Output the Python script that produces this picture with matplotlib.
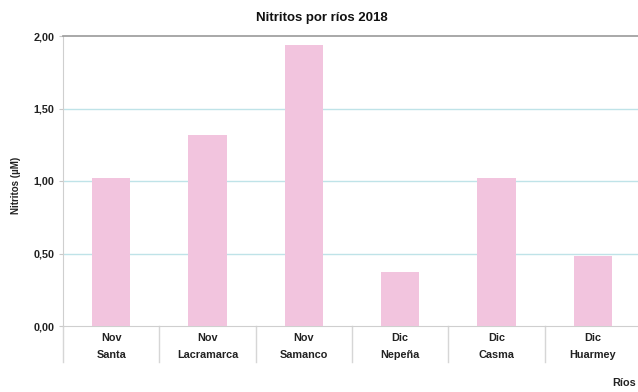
import matplotlib
matplotlib.use("Agg")
import matplotlib.pyplot as plt
from matplotlib.transforms import blended_transform_factory

months = ["Nov", "Nov", "Nov", "Dic", "Dic", "Dic"]
rivers = ["Santa", "Lacramarca", "Samanco", "Nepeña", "Casma", "Huarmey"]
nitritos = [1.02, 1.32, 1.94, 0.37, 1.02, 0.48]
y_ticks = [0.0, 0.5, 1.0, 1.5, 2.0]
y_tick_labels = ["0,00", "0,50", "1,00", "1,50", "2,00"]

plt.rcParams["font.family"] = ["Liberation Sans", "DejaVu Sans"]

fig = plt.figure(figsize=(6.38, 3.92), dpi=100)
ax = fig.add_axes([63 / 638, 1 - 326 / 392, 578 / 638, 290 / 392])

x = [i + 0.5 for i in range(len(rivers))]
ax.bar(x, nitritos, width=0.4, color="#f2c4de", zorder=3)

ax.set_xlim(0, len(rivers))
ax.set_ylim(0, 2.0)
ax.set_yticks(y_ticks)
ax.set_yticklabels(y_tick_labels, fontsize=7.8, fontweight="bold", color="#222222")
ax.tick_params(axis="y", length=3, color="#c8c8c8", pad=3)
ax.set_xticks([])

for y in y_ticks[1:-1]:
    ax.axhline(y, color="#bfe3e8", lw=1.0, zorder=1)

ax.spines["right"].set_visible(False)
ax.spines["top"].set_color("#9a9a9a")
ax.spines["top"].set_linewidth(1.2)
ax.spines["left"].set_color("#cfcfcf")
ax.spines["bottom"].set_color("#cfcfcf")

# two-level category labels with separators
tr = blended_transform_factory(ax.transData, ax.transAxes)
for i, (m, r) in enumerate(zip(months, rivers)):
    ax.text(i + 0.5, -0.042, m, transform=tr, ha="center", va="center",
            fontsize=7.8, fontweight="bold", color="#222222")
    ax.text(i + 0.5, -0.1, r, transform=tr, ha="center", va="center",
            fontsize=7.8, fontweight="bold", color="#222222")
for i in range(len(rivers) + 1):
    ax.plot([i, i], [0, -0.124], transform=tr, color="#d6d6d6", lw=1.0,
            clip_on=False)

fig.text(16 / 638, 1 - 185 / 392, "Nitritos (µM)", rotation=90, ha="center",
         va="center", fontsize=7, fontweight="bold", color="#222222")
fig.text(322 / 638, 1 - 18 / 392, "Nitritos por ríos 2018", ha="center",
         va="center", fontsize=9.5, fontweight="bold", color="#111111")
fig.text(636 / 638, 1 - 383 / 392, "Ríos", ha="right", va="center",
         fontsize=7.8, fontweight="bold", color="#222222")

fig.savefig("out.png", dpi=100)
